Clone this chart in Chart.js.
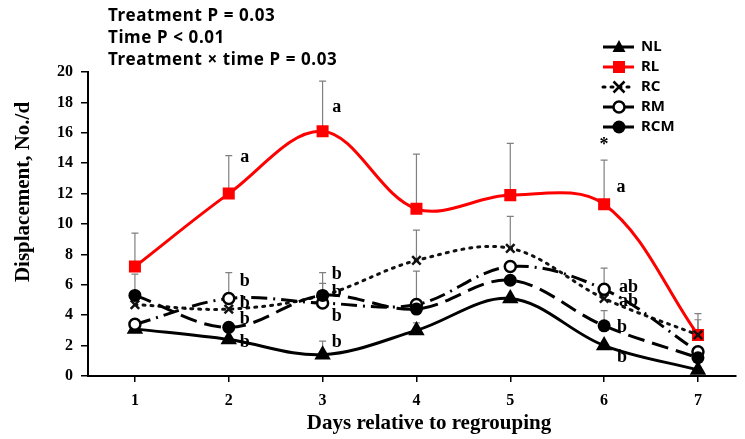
<!DOCTYPE html>
<html>
<head>
<meta charset="utf-8">
<script src="https://cdn.jsdelivr.net/npm/chart.js@4.4.0/dist/chart.umd.min.js"></script>
<style>
  body { margin: 0; background: #fff; }
  #wrap { width: 745px; height: 439px; }
</style>
</head>
<body>
<div id="wrap"><canvas id="lineChart" width="745" height="439"></canvas></div>
<script>
// Days relative to regrouping
const days = [1, 2, 3, 4, 5, 6, 7];

// Means per treatment
const nl  = [3.1, 2.4, 1.4, 3.0, 5.1, 2.0, 0.4];
const rl  = [7.2, 12.0, 16.1, 11.0, 11.9, 11.3, 2.7];
const rc  = [4.7, 4.4, 5.3, 7.6, 8.4, 5.1, 2.7];
const rm  = [3.4, 5.1, 4.8, 4.7, 7.2, 5.7, 1.6];
const rcm = [5.3, 3.2, 5.3, 4.4, 6.3, 3.3, 1.2];

// Upper error bar ends (null = no bar visible)
const rlErr  = [9.4, 14.5, 19.4, 14.6, 15.3, 14.2, 4.1];
const rcErr  = [null, null, 6.8, 9.6, 10.5, null, 3.7];
const rmErr  = [null, 6.8, null, 6.9, null, 7.1, null];
const rcmErr = [6.7, null, 6.1, null, null, 4.3, null];
const nlErr  = [null, null, 2.3, 3.5, null, null, null];

// Significance letters [day position, value, text]
const letterX = [2.17, 2.17, 2.17, 2.17, 2.17, 3.15, 3.15, 3.15, 3.15, 3.15, 6.0, 6.18, 6.26, 6.26, 6.19, 6.19];
const letterY = [14.4, 6.25, 4.8, 3.75, 2.2, 17.7, 6.7, 5.5, 3.9, 2.2, 15.2, 12.4, 5.8, 4.9, 3.2, 1.2];
const letterT = ['a', 'b', 'b', 'b', 'b', 'a', 'b', 'b', 'b', 'b', '*', 'a', 'ab', 'ab', 'b', 'b'];

const statLines = ['Treatment P = 0.03', 'Time P < 0.01', 'Treatment \u00d7 time P = 0.03'];

const pts = arr => arr.map((v, i) => ({ x: days[i], y: v }));

function drawMarker(ctx, style, x, y, color) {
    ctx.save();
    ctx.setLineDash([]);
    ctx.fillStyle = color;
    ctx.strokeStyle = color;
    ctx.beginPath();
    if (style === 'triangle') {
        ctx.moveTo(x, y - 7);
        ctx.lineTo(x + 6.5, y + 5);
        ctx.lineTo(x - 6.5, y + 5);
        ctx.closePath();
        ctx.fill();
    } else if (style === 'rect') {
        ctx.fillRect(x - 6, y - 6, 12, 12);
    } else if (style === 'crossRot') {
        ctx.lineWidth = 2.5;
        ctx.moveTo(x - 5.5, y - 5.5); ctx.lineTo(x + 5.5, y + 5.5);
        ctx.moveTo(x + 5.5, y - 5.5); ctx.lineTo(x - 5.5, y + 5.5);
        ctx.stroke();
    } else if (style === 'open') {
        ctx.fillStyle = '#fff';
        ctx.lineWidth = 2.5;
        ctx.arc(x, y, 5.5, 0, Math.PI * 2);
        ctx.fill();
        ctx.stroke();
    } else {
        ctx.arc(x, y, 6.5, 0, Math.PI * 2);
        ctx.fill();
    }
    ctx.restore();
}

const legendItems = [
    { text: 'NL', color: '#000', dash: [], marker: 'triangle' },
    { text: 'RL', color: '#ff0000', dash: [], marker: 'rect' },
    { text: 'RC', color: '#000', dash: [2, 6], marker: 'crossRot' },
    { text: 'RM', color: '#000', dash: [], marker: 'open' },
    { text: 'RCM', color: '#000', dash: [17, 5], marker: 'dot' }
];

const extras = {
    id: 'extras',
    beforeDatasetsDraw(chart) {
        const ctx = chart.ctx;
        const xs = chart.scales.x, ys = chart.scales.y;
        ctx.save();
        ctx.strokeStyle = '#808080';
        ctx.lineWidth = 1.2;
        [nl, rl, rc, rm, rcm].forEach((mean, s) => {
            const errs = [nlErr, rlErr, rcErr, rmErr, rcmErr][s];
            mean.forEach((v, i) => {
                if (errs[i] == null) return;
                const px = xs.getPixelForValue(days[i]);
                const y0 = ys.getPixelForValue(v);
                const y1 = ys.getPixelForValue(errs[i]);
                ctx.beginPath();
                ctx.moveTo(px, y0); ctx.lineTo(px, y1);
                ctx.moveTo(px - 3.5, y1); ctx.lineTo(px + 3.5, y1);
                ctx.stroke();
            });
        });
        ctx.restore();
    },
    afterDraw(chart) {
        const ctx = chart.ctx;
        const xs = chart.scales.x, ys = chart.scales.y;
        ctx.save();
        // letters
        ctx.fillStyle = '#000';
        ctx.font = 'bold 18px "Liberation Serif"';
        ctx.textAlign = 'center';
        ctx.textBaseline = 'middle';
        letterT.forEach((t, i) => {
            ctx.fillText(t, xs.getPixelForValue(letterX[i]), ys.getPixelForValue(letterY[i]));
        });
        // stats header
        ctx.textAlign = 'left';
        ctx.font = 'bold 17px "Noto Sans"';
        ctx.letterSpacing = '0.6px';
        statLines.forEach((t, i) => ctx.fillText(t, 108, 16 + i * 22));
        ctx.letterSpacing = '0px';
        // axis titles
        ctx.font = 'bold 21px "Liberation Serif"';
        ctx.textAlign = 'center';
        ctx.fillText('Days relative to regrouping', 429, 424);
        ctx.save();
        ctx.translate(24, 192);
        ctx.rotate(-Math.PI / 2);
        ctx.fillText('Displacement, No./d', 0, 0);
        ctx.restore();
        // legend
        ctx.font = 'bold 15px "Noto Sans"';
        ctx.textAlign = 'left';
        legendItems.forEach((it, i) => {
            const y = 47 + i * 20;
            ctx.save();
            ctx.strokeStyle = it.color;
            ctx.lineWidth = 3;
            ctx.lineCap = it.dash.length && it.dash[0] < 4 ? 'round' : 'butt';
            ctx.setLineDash(it.dash);
            ctx.beginPath();
            ctx.moveTo(603, y); ctx.lineTo(634, y);
            ctx.stroke();
            ctx.restore();
            drawMarker(ctx, it.marker, 619, y, it.color);
            ctx.fillStyle = '#000';
            ctx.fillText(it.text, 641, y);
        });
        ctx.restore();
    }
};

const base = {
    borderWidth: 3,
    tension: 0.35,
    pointBorderWidth: 2.5,
    fill: false
};

new Chart(document.getElementById('lineChart'), {
    type: 'line',
    data: {
        datasets: [
            Object.assign({}, base, { label: 'NL', data: pts(nl), borderColor: '#000', backgroundColor: '#000',
                pointStyle: 'triangle', pointRadius: 7, order: 4 }),
            Object.assign({}, base, { label: 'RL', data: pts(rl), borderColor: '#ff0000', backgroundColor: '#ff0000',
                pointStyle: 'rect', pointRadius: 8.5, pointBorderWidth: 0, order: 3 }),
            Object.assign({}, base, { label: 'RC', data: pts(rc), borderColor: '#111', backgroundColor: '#111',
                borderDash: [2, 6], borderCapStyle: 'round', pointStyle: 'crossRot', pointRadius: 6, order: 2 }),
            Object.assign({}, base, { label: 'RM', data: pts(rm), borderColor: '#000', backgroundColor: '#fff',
                borderDash: [16, 6, 2, 6], pointStyle: 'circle', pointRadius: 5.5, order: 1 }),
            Object.assign({}, base, { label: 'RCM', data: pts(rcm), borderColor: '#000', backgroundColor: '#000',
                borderDash: [17, 8], pointStyle: 'circle', pointRadius: 6.5, pointBorderWidth: 0, order: 0 })
        ]
    },
    options: {
        responsive: false,
        animation: false,
        layout: { padding: { top: 72, right: 3, left: 0, bottom: 0 } },
        plugins: {
            legend: { display: false },
            tooltip: { enabled: false }
        },
        scales: {
            x: {
                type: 'linear',
                min: 0.5,
                max: 7.4,
                afterBuildTicks: s => { s.ticks = days.map(v => ({ value: v })); },
                afterFit: s => { s.height = 63; },
                border: { display: true, color: '#000', width: 2 },
                grid: { drawOnChartArea: false, drawTicks: true, tickLength: 6, color: '#000', lineWidth: 1.5 },
                ticks: {
                    color: '#000',
                    padding: 9,
                    font: { family: 'Liberation Serif', weight: 'bold', size: 16 }
                }
            },
            y: {
                min: 0,
                max: 20,
                afterFit: s => { s.width = 88; },
                border: { display: true, color: '#000', width: 2 },
                grid: { drawOnChartArea: false, drawTicks: true, tickLength: 7, color: '#000', lineWidth: 1.5 },
                ticks: {
                    stepSize: 2,
                    color: '#000',
                    padding: 8,
                    font: { family: 'Liberation Serif', weight: 'bold', size: 16 }
                }
            }
        }
    },
    plugins: [extras]
});
</script>
</body>
</html>
